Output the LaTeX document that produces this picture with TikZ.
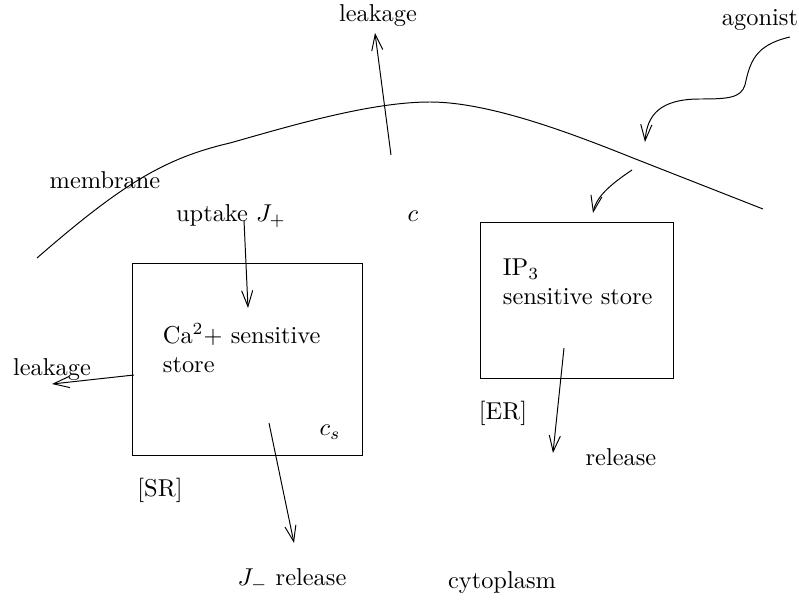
\documentclass[tikz,border=0pt]{standalone}
\usepackage{amsmath}
\usetikzlibrary{arrows.meta, positioning}

\begin{document}
\begin{tikzpicture}[
  x=0.0144cm, y=-0.0144cm,
  every node/.style={inner sep=1pt},
  flux/.style={-{Straight Barb[length=2.3mm, width=1.6mm]}},
  store/.style={draw}
]
\useasboundingbox (0,0) rectangle (799,601);

% membrane
\draw (37,258) .. controls (122,184) and (165,158) .. (230,143)
  .. controls (290,126) and (370,102) .. (430,102)
  .. controls (490,102) and (573,134) .. (633,158) -- (763,209);
\node (membrane) at (105,180) {membrane};

% stores
\coordinate (sr-nw) at (132,263);
\coordinate (sr-se) at (362,455);
\draw[store] (sr-nw) rectangle (sr-se);
\coordinate (er-nw) at (480,222);
\coordinate (er-se) at (673,378);
\draw[store] (er-nw) rectangle (er-se);

\node[anchor=west, align=left] (castore) at (160,348) {Ca$^2$+ sensitive\\store};
\node[anchor=west, align=left] (ipstore) at (500,282) {IP$_3$\\sensitive store};
\node (cs) at (330,432) {$c_s$};
\node (sr) at (160,490) {[SR]};
\node (er) at (503,413) {[ER]};
\node (c) at (413,216) {$c$};
\node (cyto) at (502,583) {cytoplasm};

% labels of fluxes
\node (leaktop) at (378,16) {leakage};
\node (leakleft) at (52,370) {leakage};
\node (uptake) at (231,216) {uptake $J_+$};
\node (jrel) at (292,580) {$J_-$ release};
\node (iprel) at (621,457) {release};
\node (agonist) at (760,20) {agonist};

% fluxes
\coordinate (lt-s) at (391,155);
\coordinate (lt-e) at (375,33);
\draw[flux] (lt-s) -- (lt-e);

\coordinate (ll-s) at (134,375);
\coordinate (ll-e) at (52,384);
\draw[flux] (ll-s) -- (ll-e);

\coordinate (up-s) at (244,220);
\coordinate (up-e) at (248,308);
\draw[flux] (up-s) -- (up-e);

\coordinate (jr-s) at (269,423);
\coordinate (jr-e) at (294,543);
\draw[flux] (jr-s) -- (jr-e);

\coordinate (ir-s) at (564,348);
\coordinate (ir-e) at (553,453);
\draw[flux] (ir-s) -- (ir-e);

% agonist signal
\coordinate (ag-s) at (790,37);
\coordinate (ag-e) at (645,142);
\draw[flux] (ag-s) .. controls (755,45) and (750,62) .. (745,85)
  .. controls (741,98) and (728,99) .. (700,99)
  .. controls (660,99) and (647,115) .. (ag-e);

\coordinate (sig-s) at (632,170);
\coordinate (sig-e) at (593,213);
\draw[flux] (sig-s) .. controls (608,186) and (596,198) .. (sig-e);

\end{tikzpicture}
\end{document}
